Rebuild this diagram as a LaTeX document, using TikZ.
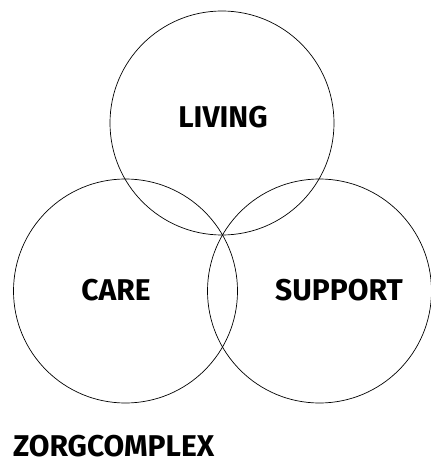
\documentclass[tikz,border=0pt]{standalone}
\usepackage{fontspec}
\setmainfont{Fira Sans}
\usepackage{tikz}
\tikzset{
    ring/.style={circle, draw, inner sep=0mm, minimum size=224pt, line width=0.7pt}
}
\tikzset{word/.style={shape=rectangle, draw=none, inner sep=0mm, font=\fontsize{30}{31}\selectfont\bfseries}}

\begin{document}
\begin{tikzpicture}[x=1pt, y=-1pt]
        \useasboundingbox (0,0) rectangle (430,462);
        \node (living) [ring] at (222, 123) {};
        \node (care) [ring] at (125.5, 291) {};
        \node (support) [ring] at (319.5, 291) {};
        \node (tliving) [word] at (223, 117.5) {LIVING};
        \node (tcare) [word] at (116, 290) {CARE};
        \node (tsupport) [word] at (339, 290) {SUPPORT};
        \node (tzorg) [word, anchor=west] at (13, 446) {ZORGCOMPLEX};
\end{tikzpicture}
\end{document}
